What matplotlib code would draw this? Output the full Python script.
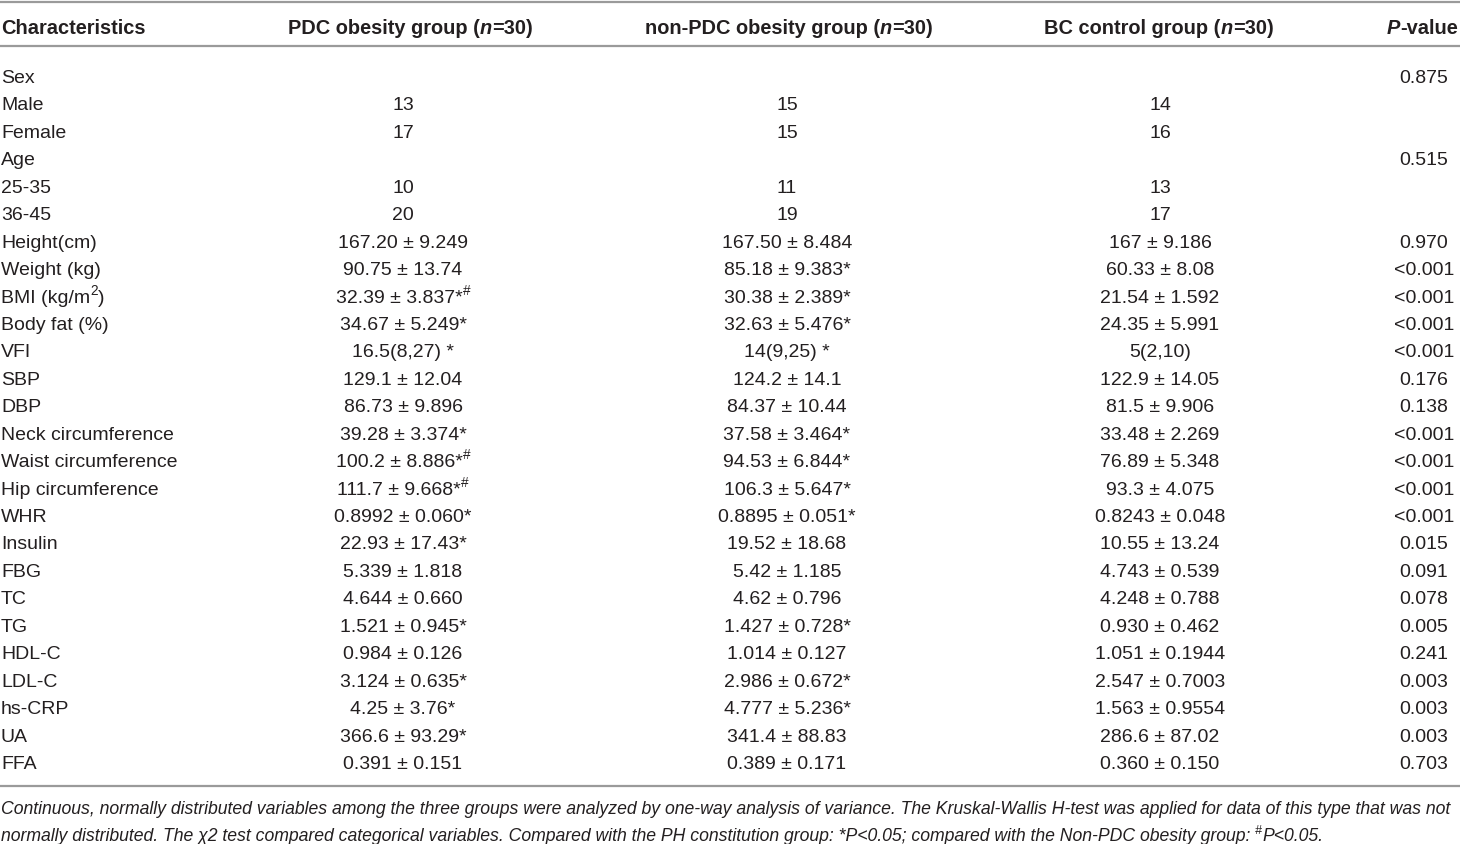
import matplotlib
matplotlib.use('Agg')
import matplotlib.pyplot as plt

plt.rcParams['font.family'] = ['Liberation Sans', 'DejaVu Sans']

header = ["Characteristics", "PDC obesity group (_n_=30)", "non-PDC obesity group (_n_=30)",
          "BC control group (_n_=30)", "_P_-value"]

characteristics = ["Sex", "Male", "Female", "Age", "25-35", "36-45", "Height(cm)", "Weight (kg)",
                   "BMI (kg/m^2)", "Body fat (%)", "VFI", "SBP", "DBP", "Neck circumference",
                   "Waist circumference", "Hip circumference", "WHR", "Insulin", "FBG", "TC", "TG",
                   "HDL-C", "LDL-C", "hs-CRP", "UA", "FFA"]
pdc = ["", "13", "17", "", "10", "20", "167.20 ± 9.249", "90.75 ± 13.74", "32.39 ± 3.837*#",
       "34.67 ± 5.249*", "16.5(8,27) *", "129.1 ± 12.04", "86.73 ± 9.896", "39.28 ± 3.374*",
       "100.2 ± 8.886*#", "111.7 ± 9.668*#", "0.8992 ± 0.060*", "22.93 ± 17.43*", "5.339 ± 1.818",
       "4.644 ± 0.660", "1.521 ± 0.945*", "0.984 ± 0.126", "3.124 ± 0.635*", "4.25 ± 3.76*",
       "366.6 ± 93.29*", "0.391 ± 0.151"]
non_pdc = ["", "15", "15", "", "11", "19", "167.50 ± 8.484", "85.18 ± 9.383*", "30.38 ± 2.389*",
           "32.63 ± 5.476*", "14(9,25) *", "124.2 ± 14.1", "84.37 ± 10.44", "37.58 ± 3.464*",
           "94.53 ± 6.844*", "106.3 ± 5.647*", "0.8895 ± 0.051*", "19.52 ± 18.68", "5.42 ± 1.185",
           "4.62 ± 0.796", "1.427 ± 0.728*", "1.014 ± 0.127", "2.986 ± 0.672*", "4.777 ± 5.236*",
           "341.4 ± 88.83", "0.389 ± 0.171"]
bc = ["", "14", "16", "", "13", "17", "167 ± 9.186", "60.33 ± 8.08", "21.54 ± 1.592", "24.35 ± 5.991",
      "5(2,10)", "122.9 ± 14.05", "81.5 ± 9.906", "33.48 ± 2.269", "76.89 ± 5.348", "93.3 ± 4.075",
      "0.8243 ± 0.048", "10.55 ± 13.24", "4.743 ± 0.539", "4.248 ± 0.788", "0.930 ± 0.462",
      "1.051 ± 0.1944", "2.547 ± 0.7003", "1.563 ± 0.9554", "286.6 ± 87.02", "0.360 ± 0.150"]
p_values = ["0.875", "", "", "0.515", "", "", "0.970", "<0.001", "<0.001", "<0.001", "<0.001",
            "0.176", "0.138", "<0.001", "<0.001", "<0.001", "<0.001", "0.015", "0.091", "0.078",
            "0.005", "0.241", "0.003", "0.003", "0.003", "0.703"]

footnote = ["Continuous, normally distributed variables among the three groups were analyzed by one-way "
            "analysis of variance. The Kruskal-Wallis H-test was applied for data of this type that was not",
            "normally distributed. The \u03c72 test compared categorical variables. Compared with the PH "
            "constitution group: *P<0.05; compared with the Non-PDC obesity group: #P<0.05."]

TXT = '#231f20'
LINE = '#9a9a9a'
W, H = 1460, 844

fig = plt.figure(figsize=(W / 100, H / 100), dpi=100)
ax = fig.add_axes([0, 0, 1, 1])
ax.set_xlim(0, W)
ax.set_ylim(H, 0)
ax.axis('off')
renderer = fig.canvas.get_renderer()


def parse(s):
    # _x_ -> italic, ^x -> superscript, # -> superscript
    runs = []
    buf = ''
    italic = False
    i = 0
    while i < len(s):
        c = s[i]
        if c == '_':
            if buf:
                runs.append((buf, italic, False))
            buf = ''
            italic = not italic
        elif c == '^' or c == '#':
            if buf:
                runs.append((buf, italic, False))
            buf = ''
            if c == '^':
                i += 1
                runs.append((s[i], italic, True))
            else:
                runs.append(('#', italic, True))
        else:
            buf += c
        i += 1
    if buf:
        runs.append((buf, italic, False))
    return runs


def width(text, **kw):
    t1 = ax.text(0, 0, text + 'x', **kw)
    t2 = ax.text(0, 0, 'x', **kw)
    w = t1.get_window_extent(renderer).width - t2.get_window_extent(renderer).width
    t1.remove()
    t2.remove()
    return w


def draw(x, yc, s, ha='left', size=14, weight='normal', italic_all=False):
    runs = parse(s)
    pieces = []
    for text, it, sup in runs:
        kw = dict(fontsize=size * 0.7 if sup else size, fontweight=weight,
                  fontstyle='italic' if (it or italic_all) else 'normal', color=TXT)
        pieces.append((text, kw, sup, width(text, **kw)))
    total = sum(p[3] for p in pieces)
    if ha == 'center':
        x0 = x - total / 2
    elif ha == 'right':
        x0 = x - total
    else:
        x0 = x
    base = yc + size * 1.389 * 0.36
    for text, kw, sup, w in pieces:
        y = base - size * 1.389 * 0.4 if sup else base
        ax.text(x0, y, text, ha='left', va='baseline', **kw)
        x0 += w


col_x = [1, 403, 787, 1160, 1424]

# header
draw(col_x[0], 27, header[0], size=14.4, weight='bold')
draw(410, 27, header[1], ha='center', size=14.4, weight='bold')
draw(789, 27, header[2], ha='center', size=14.4, weight='bold')
draw(1159, 27, header[3], ha='center', size=14.4, weight='bold')
draw(1458, 27, header[4], ha='right', size=14.4, weight='bold')

# rules
ax.plot([0, W], [2, 2], color=LINE, lw=1.6)
ax.plot([0, W], [46, 46], color=LINE, lw=1.6)
ax.plot([0, W], [786, 786], color=LINE, lw=1.6)

row_y0, row_step = 76, 27.44
for i, name in enumerate(characteristics):
    y = row_y0 + i * row_step
    draw(col_x[0], y, name)
    for x, col in zip(col_x[1:4], [pdc, non_pdc, bc]):
        if col[i]:
            draw(x, y, col[i], ha='center')
    if p_values[i]:
        draw(col_x[4], y, p_values[i], ha='center')

# footnote sized to span the width
fs = 12.0
w1 = width(footnote[0], fontsize=fs, fontstyle='italic')
fs = fs * 1455 / w1
draw(1, 808, footnote[0], size=fs, italic_all=True)
draw(1, 835, footnote[1], size=fs, italic_all=True)

fig.savefig('out.png', dpi=100)
